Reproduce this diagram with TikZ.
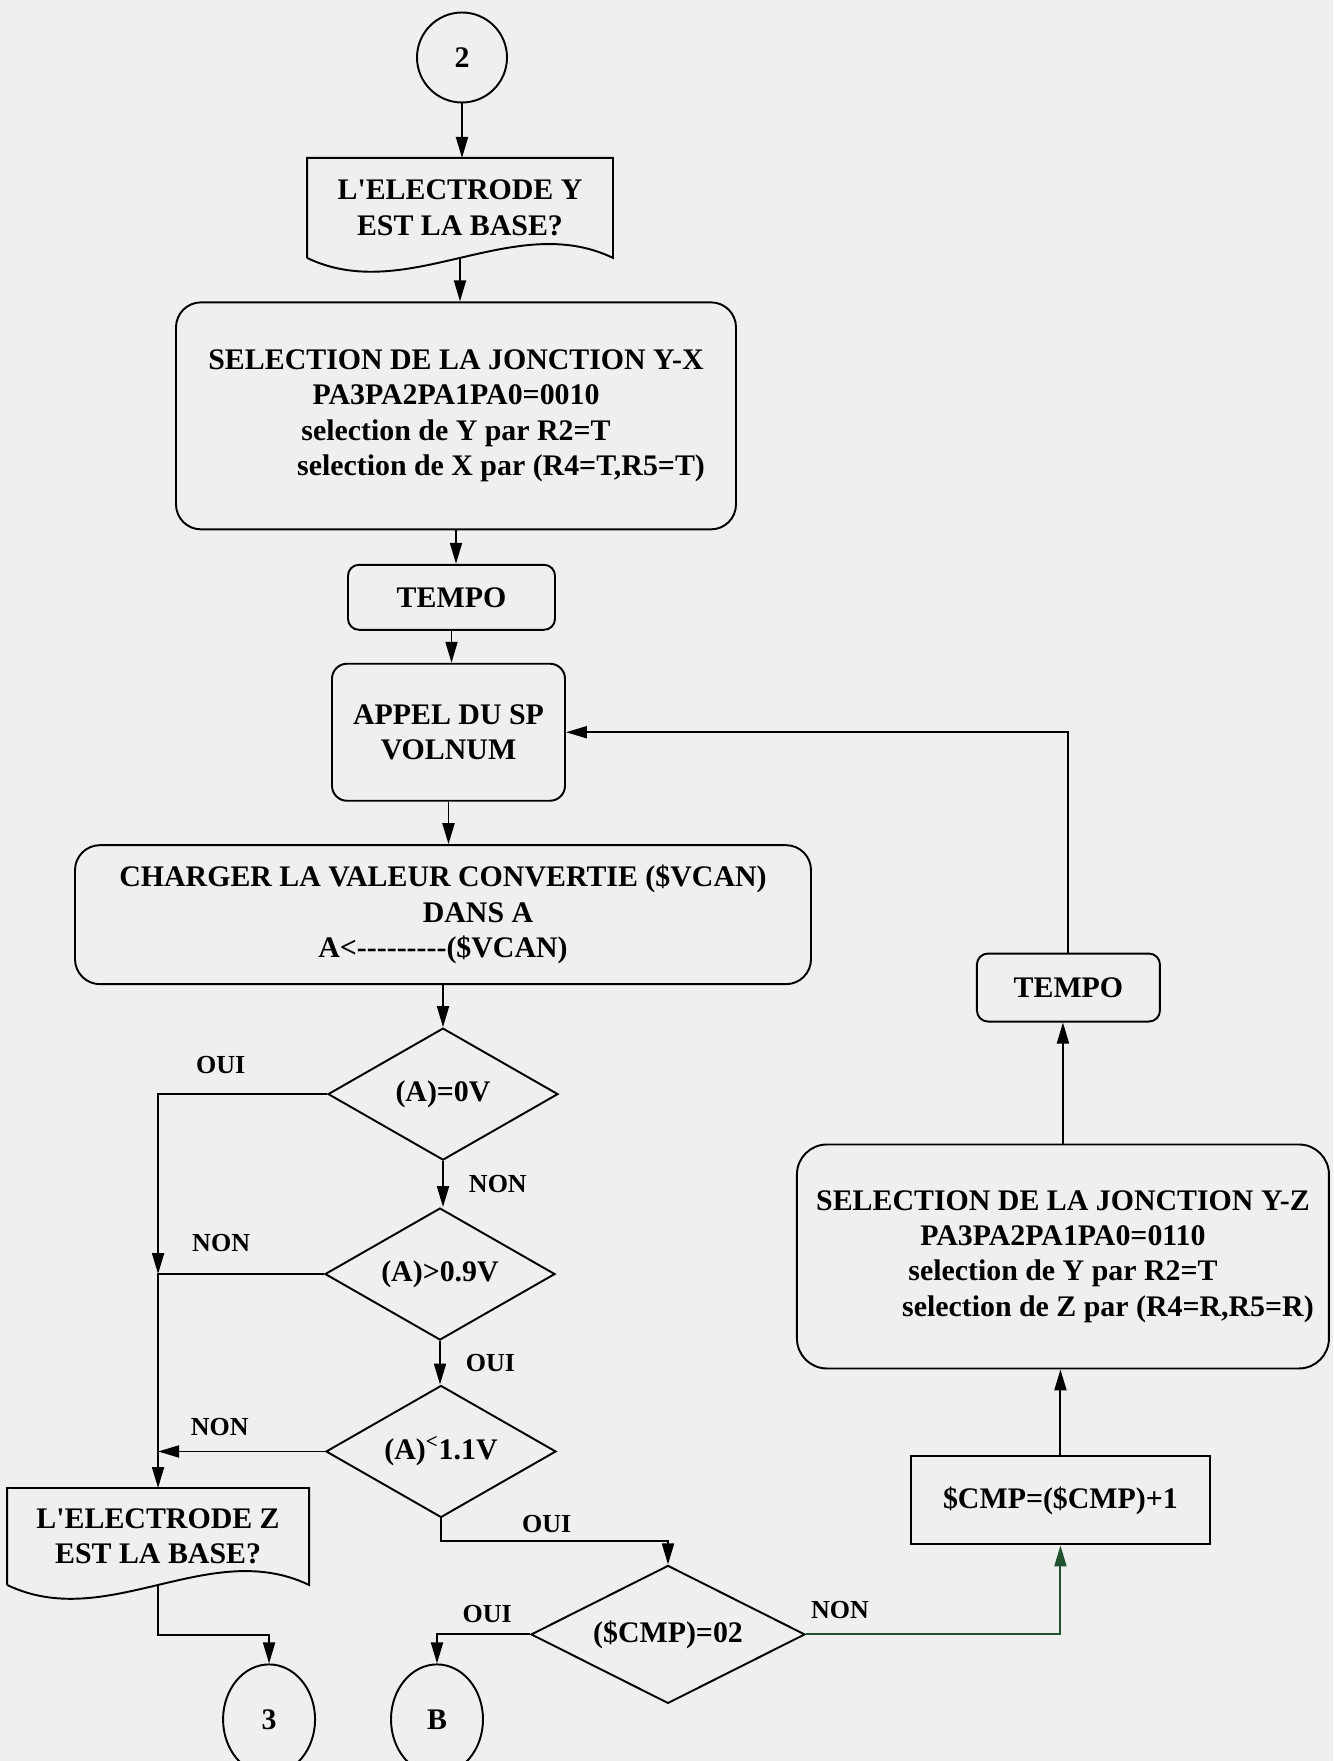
\documentclass[tikz,border=0pt]{standalone}
\usepackage{fontspec}
\newfontfamily\chartfont{Liberation Serif}
\usepackage{tikz}
\usetikzlibrary{arrows.meta, positioning, shapes.geometric}
\definecolor{paper}{RGB}{239,239,237}
\definecolor{scan-green}{RGB}{32,82,48}

% document symbol: plain node, outline with a wavy bottom edge
\newcommand{\docoutline}[1]{%
  \draw (#1.south west) -- (#1.north west) -- (#1.north east) -- (#1.south east)
    .. controls +(-2,0.96) and +(2,-0.96) .. (#1.south west);}

\begin{document}
\begin{tikzpicture}[
  line width=1.1pt,
  txt/.style={font=\chartfont\bfseries\fontsize{17}{20.1}\selectfont, align=center},
  box/.style={txt, rectangle, draw, rounded corners=0.5cm},
  tempo/.style={txt, rectangle, draw, rounded corners=0.22cm},
  plain/.style={txt, rectangle, draw},
  doc/.style={txt, minimum width=6.08cm, minimum height=1.96cm},
  decision/.style={txt, diamond, draw, aspect=1.7, inner sep=0pt},
  conn/.style={txt, ellipse, draw, inner sep=0pt},
  lbl/.style={font=\chartfont\bfseries\fontsize{14.8}{17}\selectfont, inner sep=0pt},
  arrow/.style={-{Triangle[length=0.42cm,width=0.24cm]}}
]
  \path[use as bounding box, fill=paper] (0,0) rectangle (26.66,-35.22);

  \node[conn, minimum size=1.8cm] (c2) at (9.24,-1.15) {2};
  \node[doc, below=1.09cm of c2, xshift=-0.04cm] (docY) {L'ELECTRODE Y\\EST LA BASE?};
  \node[box, minimum width=11.2cm, minimum height=4.54cm, below=0.87cm of docY, xshift=-0.08cm] (selX)
    {SELECTION DE LA JONCTION Y-X\\PA3PA2PA1PA0=0010\\selection de Y par R2=T\\\hspace*{1.8cm}selection de X par (R4=T,R5=T)};
  \node[tempo, minimum width=4.14cm, minimum height=1.3cm, below=0.67cm of selX, xshift=-0.09cm] (tempoA) {TEMPO};
  \node[box, rounded corners=0.3cm, minimum width=4.66cm, minimum height=2.74cm, below=0.64cm of tempoA, xshift=-0.06cm] (appel)
    {APPEL DU SP\\VOLNUM};
  \node[box, minimum width=14.72cm, minimum height=2.78cm, below=0.85cm of appel, xshift=-0.11cm] (charger)
    {CHARGER LA VALEUR CONVERTIE (\$VCAN)\\\hspace*{1.4cm}DANS A\\A<---------(\$VCAN)};

  \node[decision, minimum width=4.6cm, minimum height=2.64cm, below=0.84cm of charger] (testA) {(A)=0V};
  \node[decision, minimum width=4.6cm, minimum height=2.64cm, below=0.92cm of testA, xshift=-0.06cm] (testB) {(A)>0.9V};
  \node[decision, minimum width=4.6cm, minimum height=2.64cm, below=0.87cm of testB, xshift=0.02cm] (testC)
    {(A)\textsuperscript{<}1.1V};
  \node[doc, minimum width=6cm, minimum height=1.9cm, left=0.32cm of testC, yshift=-1.7cm] (docZ) {L'ELECTRODE Z\\EST LA BASE?};
  \node[decision, minimum width=5.48cm, minimum height=2.76cm, below=0.92cm of testC, xshift=4.54cm] (cmpTest) {(\$CMP)=02};

  \node[conn, minimum width=1.84cm, minimum height=2.2cm, below=1.57cm of docZ, xshift=2.22cm] (c3) {3};
  \node[conn, minimum width=1.84cm, minimum height=2.2cm, right=1.48cm of c3] (cB) {B};

  \node[plain, minimum width=5.98cm, minimum height=1.76cm, right=2.08cm of cmpTest, yshift=2.68cm] (incr) {\$CMP=(\$CMP)+1};
  \node[box, rounded corners=0.6cm, minimum width=10.64cm, minimum height=4.48cm, above=1.72cm of incr, xshift=0.05cm] (selZ)
    {SELECTION DE LA JONCTION Y-Z\\PA3PA2PA1PA0=0110\\selection de Y par R2=T\\\hspace*{1.8cm}selection de Z par (R4=R,R5=R)};
  \node[tempo, minimum width=3.66cm, minimum height=1.36cm, above=2.42cm of selZ, xshift=0.11cm] (tempoB) {TEMPO};

  \docoutline{docY}
  \docoutline{docZ}

  \draw[arrow] (c2.south) -- (c2.south |- docY.north);
  \draw[arrow] (docY.south) -- (docY.south |- selX.north);
  \draw[arrow] (selX.south) -- (selX.south |- tempoA.north);
  \draw[arrow] (tempoA.south) -- (tempoA.south |- appel.north);
  \draw[arrow] (appel.south) -- (appel.south |- charger.north);
  \draw[arrow] (charger.south) -- (charger.south |- testA.north);
  \draw[arrow] (testA.south) -- node[lbl, right=0.5cm] {NON} (testA.south |- testB.north);
  \draw[arrow] (testB.south) -- node[lbl, right=0.5cm] {OUI} (testB.south |- testC.north);

  \coordinate (jB) at (testB.west -| docZ.north);
  \coordinate (jC) at (testC.west -| docZ.north);
  \draw[arrow] (testA.west) -| node[lbl, above=0.39cm, pos=0.315] {OUI} (jB);
  \draw (testB.west) -- node[lbl, above=0.43cm, pos=0.62] {NON} (jB) -- (jC);
  \draw[arrow] (testC.west) -- node[lbl, above=0.29cm, pos=0.63] {NON} (jC);
  \draw[arrow] (jC) -- (docZ.north);

  \draw[arrow] (docZ.south) -- ++(0,-1) -| (c3.north);
  \draw[arrow] (testC.south) -- ++(0,-0.46) -| node[lbl, above=0.15cm, pos=0.233] {OUI} (cmpTest.north);
  \draw[arrow] (cmpTest.west) -| node[lbl, above=0.21cm, pos=0.23] {OUI} (cB.north);
  \draw[arrow, draw=scan-green] (cmpTest.east) -| node[lbl, above=0.29cm, pos=0.067] {NON} (incr.south);

  \draw[arrow] (incr.north) -- (incr.north |- selZ.south);
  \draw[arrow] (selZ.north) -- (selZ.north |- tempoB.south);
  \draw[arrow] (tempoB.north) |- (appel.east);
\end{tikzpicture}
\end{document}
